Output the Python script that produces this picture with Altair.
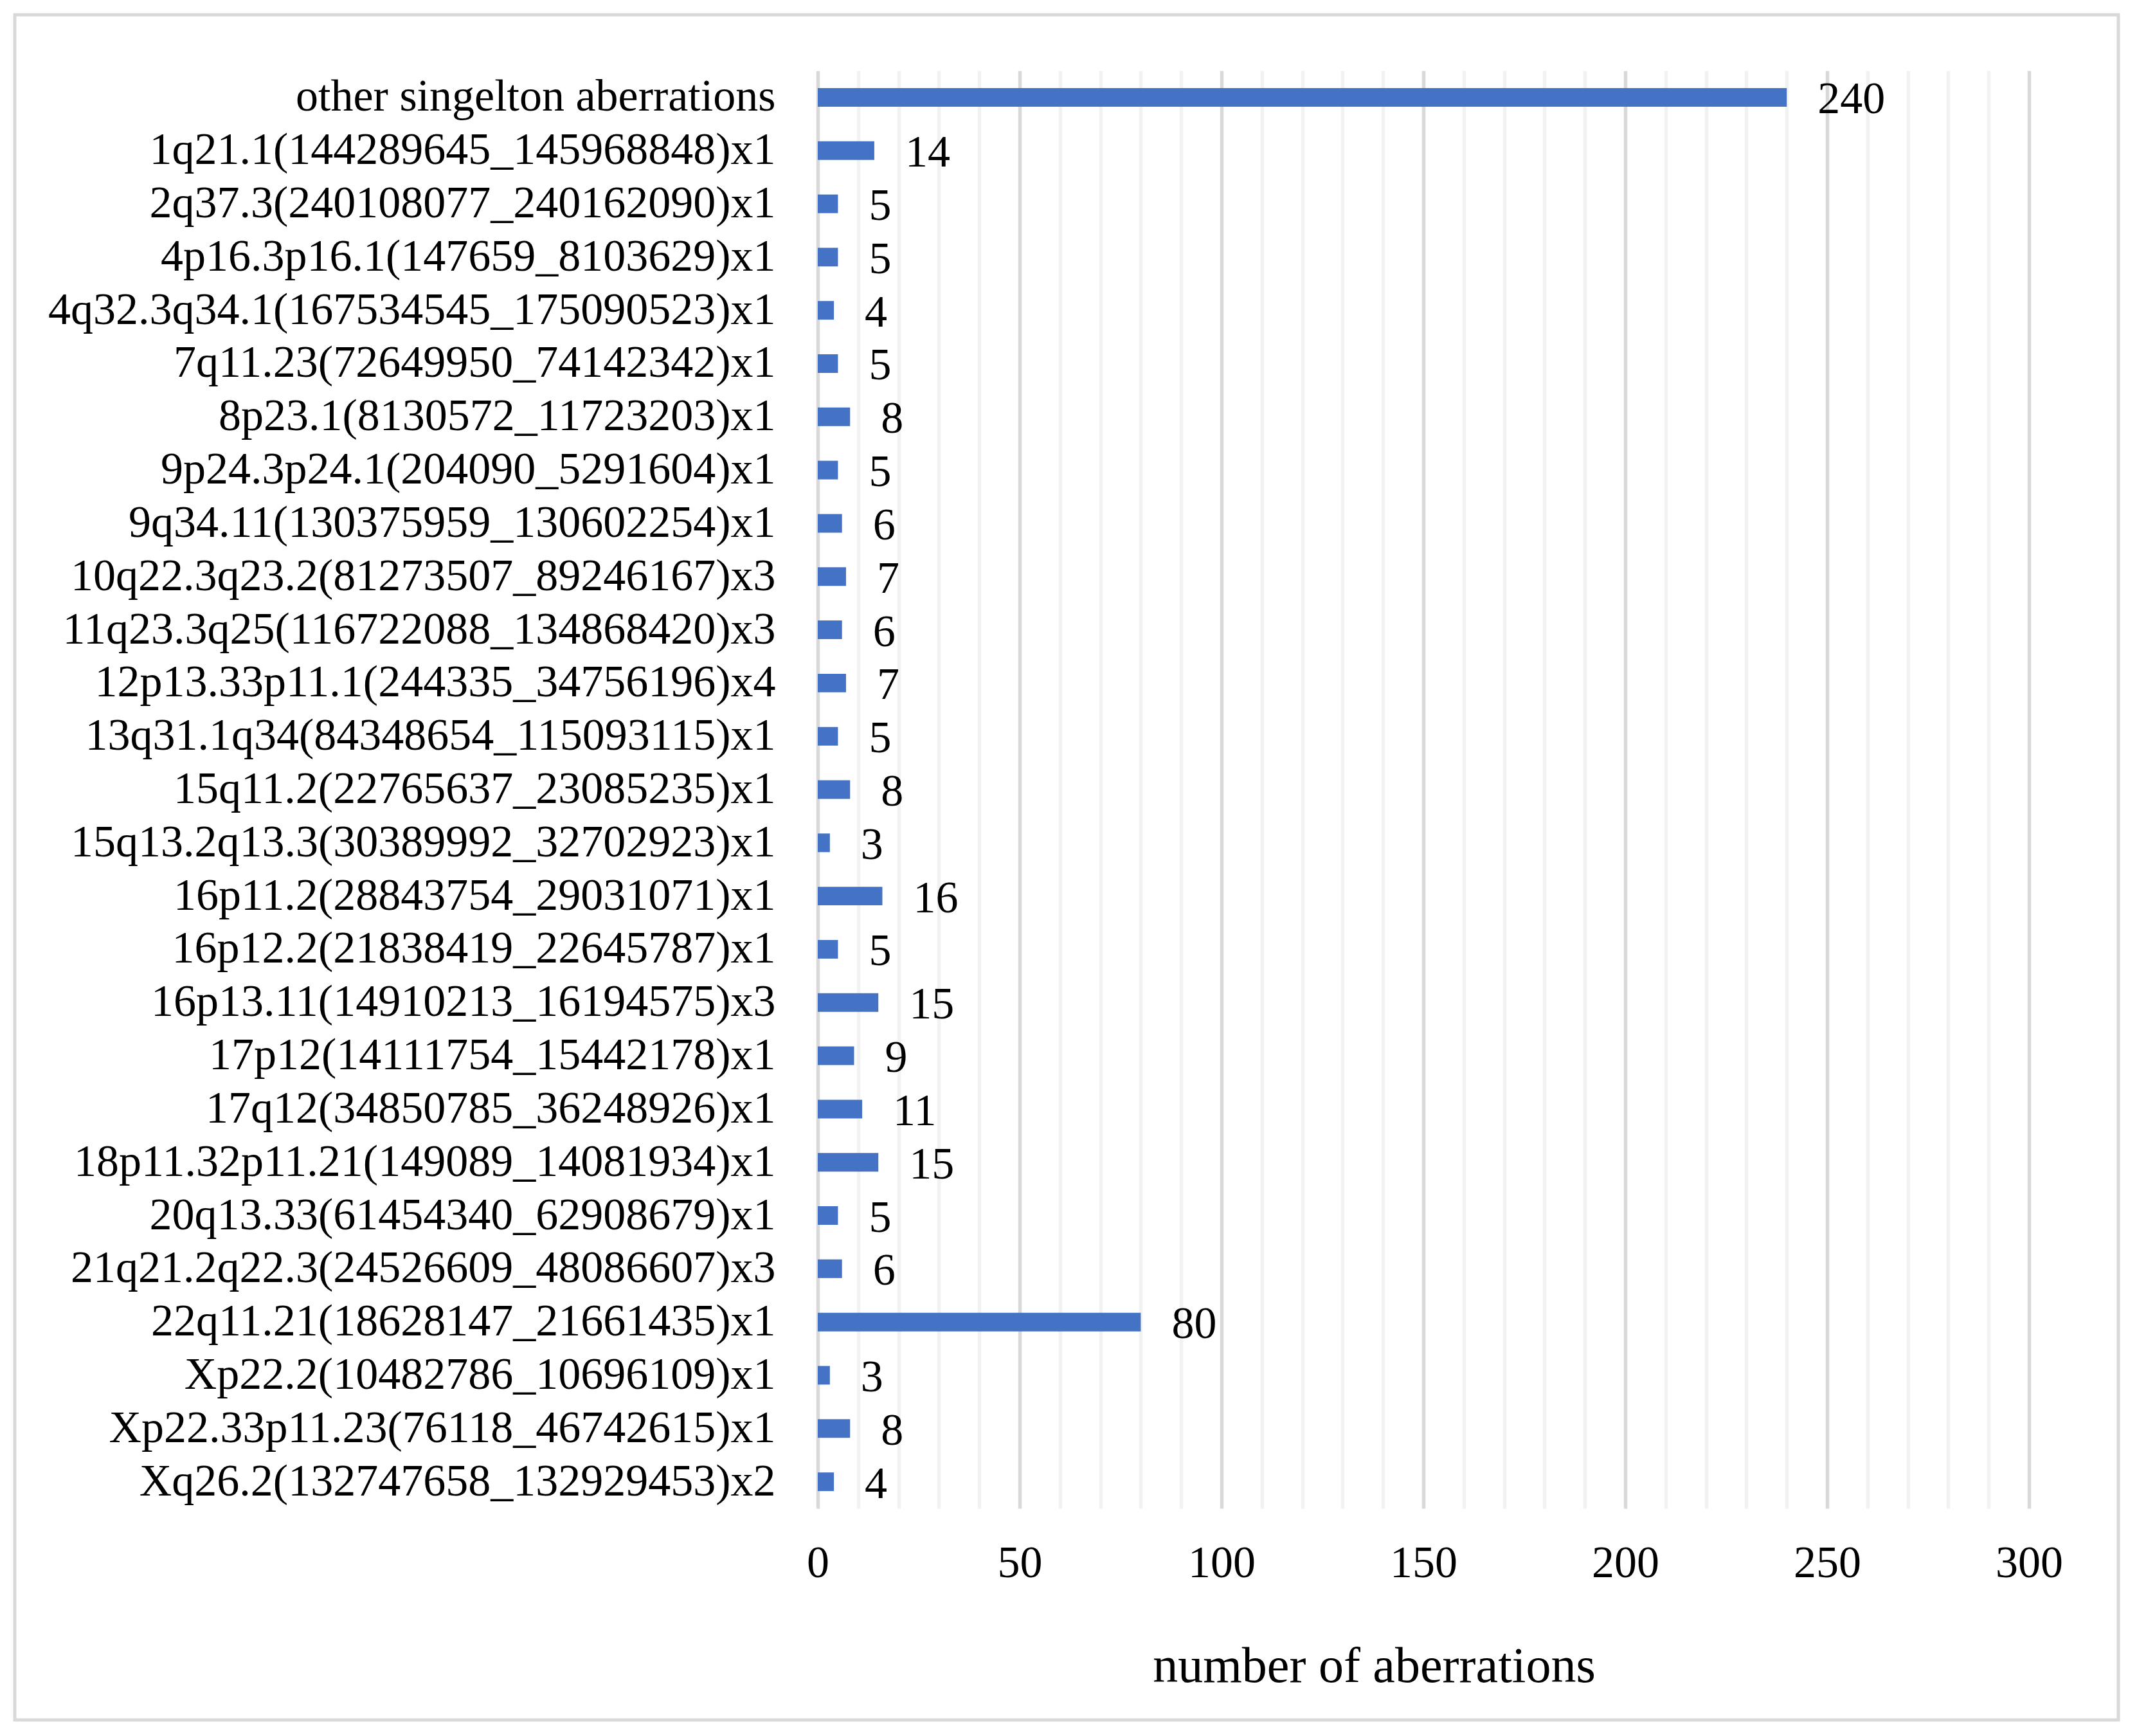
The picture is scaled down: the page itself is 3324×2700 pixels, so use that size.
import altair as alt
import pandas as pd

categories = [
    "other singelton aberrations",
    "1q21.1(144289645_145968848)x1",
    "2q37.3(240108077_240162090)x1",
    "4p16.3p16.1(147659_8103629)x1",
    "4q32.3q34.1(167534545_175090523)x1",
    "7q11.23(72649950_74142342)x1",
    "8p23.1(8130572_11723203)x1",
    "9p24.3p24.1(204090_5291604)x1",
    "9q34.11(130375959_130602254)x1",
    "10q22.3q23.2(81273507_89246167)x3",
    "11q23.3q25(116722088_134868420)x3",
    "12p13.33p11.1(244335_34756196)x4",
    "13q31.1q34(84348654_115093115)x1",
    "15q11.2(22765637_23085235)x1",
    "15q13.2q13.3(30389992_32702923)x1",
    "16p11.2(28843754_29031071)x1",
    "16p12.2(21838419_22645787)x1",
    "16p13.11(14910213_16194575)x3",
    "17p12(14111754_15442178)x1",
    "17q12(34850785_36248926)x1",
    "18p11.32p11.21(149089_14081934)x1",
    "20q13.33(61454340_62908679)x1",
    "21q21.2q22.3(24526609_48086607)x3",
    "22q11.21(18628147_21661435)x1",
    "Xp22.2(10482786_10696109)x1",
    "Xp22.33p11.23(76118_46742615)x1",
    "Xq26.2(132747658_132929453)x2",
]
counts = [240, 14, 5, 5, 4, 5, 8, 5, 6, 7, 6, 7, 5, 8, 3, 16, 5, 15, 9, 11, 15, 5, 6, 80, 3, 8, 4]
x_ticks = list(range(0, 301, 10))
x_title = "number of aberrations"

df = pd.DataFrame({"category": categories, "count": counts})

FONT = "Liberation Serif"
W, H = 1884, 2236

x_enc = alt.X(
    "count:Q",
    scale=alt.Scale(domain=[0, 300], nice=False),
    axis=alt.Axis(
        values=x_ticks,
        labelExpr="datum.value % 50 === 0 ? datum.label : ''",
        labelFlush=False,
        labelOverlap=False,
        gridColor={"condition": {"test": "datum.value % 50 === 0", "value": "#D9D9D9"}, "value": "#F2F2F2"},
        gridWidth=5.5,
        domain=False,
        ticks=False,
        tickSize=0,
        labelPadding=51,
        labelFont=FONT,
        labelFontSize=70,
        labelColor="#000000",
        title=x_title,
        titleFont=FONT,
        titleFontSize=78,
        titleFontWeight="normal",
        titleColor="#000000",
        titleX=865,
        titleY=269,
        titleAlign="center",
        titleBaseline="alphabetic",
    ),
)
y_enc = alt.Y(
    "category:N",
    sort=categories,
    scale=alt.Scale(paddingInner=0.65, paddingOuter=0.325),
    axis=alt.Axis(
        title=None,
        domain=False,
        ticks=False,
        tickSize=0,
        grid=False,
        labelPadding=66,
        labelLimit=0,
        labelFont=FONT,
        labelFontSize=70,
        labelColor="#000000",
        labelAlign="right",
    ),
)

base = alt.Chart(df)
bars = base.mark_bar(color="#4472C4").encode(x=x_enc, y=y_enc)
labels = base.mark_text(
    align="left", baseline="middle", dx=48, dy=4, font=FONT, fontSize=70, color="#000000"
).encode(x="count:Q", y=alt.Y("category:N", sort=categories), text="count:Q")

frame = alt.Chart(alt.Data(values=[{"a": 1}])).mark_rect(
    fill=None, stroke="#D9D9D9", strokeWidth=5
).encode(
    x=alt.value(-1249), x2=alt.value(2023), y=alt.value(-87), y2=alt.value(2565)
)

chart = (
    alt.layer(frame, bars, labels)
    .properties(
        width=W,
        height=H,
        autosize=alt.AutoSizeParams(type="none"),
        padding={"left": 1264, "top": 102, "right": 160, "bottom": 346},
        background="#FFFFFF",
    )
    .configure_view(stroke=None)
)

chart.save("out.html", embed_options={"renderer": "svg", "actions": False})
